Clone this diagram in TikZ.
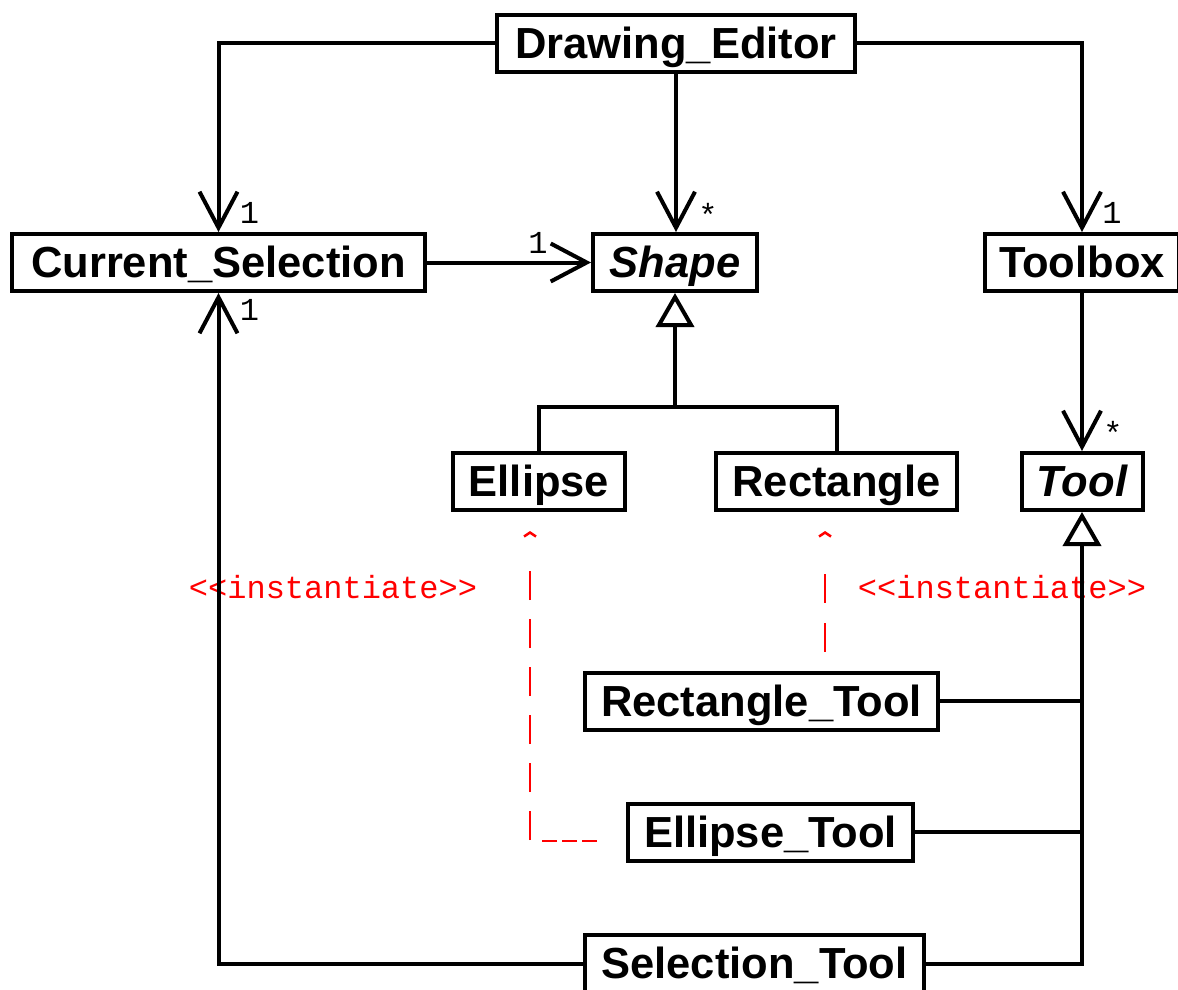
\documentclass[tikz,border=0pt]{standalone}
\usepackage{fontspec}
\setmainfont{Liberation Sans}
\newfontfamily\monof{Liberation Mono}
\usetikzlibrary{arrows.meta,calc}
\begin{document}
\begin{tikzpicture}[x=1pt,y=-1pt,
 cls/.style={draw, line width=4pt, fill=white, inner sep=0pt,
   font=\fontsize{43.5}{50}\selectfont\bfseries, text height=30.5pt, text depth=0pt,
   minimum height=57pt},
 assoc/.style={line width=4pt, -{Straight Barb[length=36pt,width=38pt]}},
 gen/.style={line width=4pt, -{Triangle[length=34pt,width=38pt,fill=white]}},
 conn/.style={line width=4pt},
 dep/.style={red, line width=2.5pt, -{Straight Barb[length=4pt,width=12pt]}},
 mult/.style={font=\fontsize{32}{38}\selectfont\monof, anchor=base, inner sep=0pt},
 stereo/.style={red, font=\fontsize{32}{38}\selectfont\monof, anchor=base, inner sep=0pt}]
\useasboundingbox (0,0) rectangle (1178,990);
% stereotype labels
\node[stereo] (s1) at (333,598) {<<instantiate>>};
\node[stereo] (s2) at (1002,598) {<<instantiate>>};
% classes
\node[cls, minimum width=358pt] (de) at (676,43.5) {Drawing\_Editor};
\node[cls, minimum width=413pt] (cs) at (218.5,262.5) {Current\_Selection};
\node[cls, minimum width=164pt] (sh) at (675,262.5) {\itshape Shape};
\node[cls, minimum width=194pt] (tb) at (1082,262.5) {Toolbox};
\node[cls, minimum width=172pt] (el) at (539,481.5) {Ellipse};
\node[cls, minimum width=241pt] (re) at (836.5,481.5) {Rectangle};
\node[cls, minimum width=121pt] (tl) at (1082,481.5) {\itshape Tool};
\node[cls, minimum width=353pt] (rt) at (761.5,701) {Rectangle\_Tool};
\node[cls, minimum width=285pt] (et) at (770.5,832) {Ellipse\_Tool};
\node[cls, minimum width=339pt] (st) at (754.5,963.5) {Selection\_Tool};
% associations
\draw[assoc] (de.west) -| (cs.north);
\draw[assoc] (de.south) -- (de.south |- sh.north);
\draw[assoc] (de.east) -| (tb.north);
\draw[assoc] (cs.east) -- (sh.west);
\draw[assoc] (st.west) -| (cs.south);
\draw[assoc] (tb.south) -- (tl.north);
% generalisation
\coordinate (j1) at (675,407);
\draw[conn] (el.north) |- (j1) -| (re.north);
\draw[gen] (j1) -- (sh.south);
\draw[gen] (st.east) -| (tl.south);
\draw[conn] (rt.east) -- (rt.east -| tl.south);
\draw[conn] (et.east) -- (et.east -| tl.south);
% dependencies
\draw[dep, dash pattern=on 29pt off 20pt on 29pt off 60pt, dash phase=119pt]
  ($(rt.north)+(63.5,0)$) -- ($(re.south)+(-11.5,19)$);
\draw[dep, dash pattern=on 15pt off 5pt on 15pt off 5pt on 15pt off 13pt on 29pt off 19pt on 29pt off 19pt on 29pt off 19pt on 29pt off 19pt on 29pt off 19pt on 29pt off 60pt]
  ($(et.west)+(-29,9)$) -| ($(el.south)+(-9,19)$);
% multiplicities
\node[mult] (m1) at (249.5,223) {1};
\node[mult] (m2) at (249.5,320) {1};
\node[mult] (m3) at (1112,223) {1};
\node[mult] (m4) at (538,253) {1};
\node[mult] (m5) at (708,226) {*};
\node[mult] (m6) at (1113,444) {*};
\end{tikzpicture}
\end{document}
